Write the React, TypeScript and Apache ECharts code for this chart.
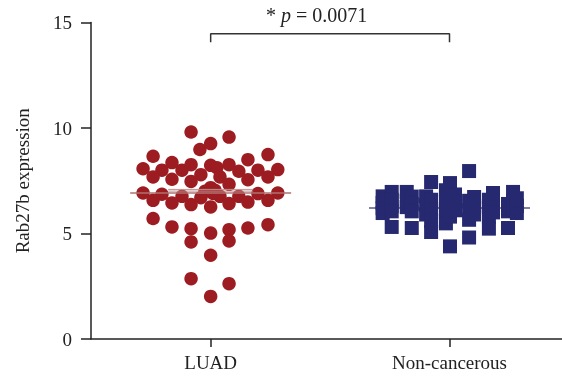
import React, { useEffect, useRef } from "react";
import * as echarts from "echarts";

const categories = ["LUAD", "Non-cancerous"];
const yTicks = [0, 5, 10, 15];

// LUAD values with horizontal jitter (category units)
const luadValues = [
  9.81, 9.57, 9.26, 8.98, 8.66, 8.74, 8.5, 8.07, 8.36, 8.0, 8.0, 8.26, 8.23, 8.12, 8.26,
  7.95, 8.0, 8.03, 7.68, 7.57, 7.79, 7.68, 7.47, 7.33, 7.55, 7.68, 7.17, 7.0, 7.05, 6.92,
  6.86, 6.76, 6.7, 6.76, 6.76, 6.89, 6.92, 6.57, 6.45, 6.37, 6.26, 6.42, 6.49, 6.57, 5.71,
  5.31, 5.23, 5.02, 5.18, 5.26, 5.42, 4.6, 4.65, 3.97, 2.86, 2.62, 2.02, 6.9,
];
const luadJitter = [
  -0.082, 0.077, 0, -0.045, -0.241, 0.24, 0.156, -0.283, -0.162, -0.204, -0.12, -0.082, 0, 0.026, 0.077,
  0.118, 0.198, 0.281, -0.241, -0.162, -0.041, 0.039, -0.082, 0.077, 0.156, 0.24, 0, -0.024, 0.018, -0.283,
  -0.204, -0.12, -0.041, 0.039, 0.118, 0.198, 0.281, -0.241, -0.162, -0.082, 0, 0.077, 0.156, 0.24, -0.241,
  -0.162, -0.082, 0, 0.077, 0.156, 0.24, -0.082, 0.077, 0, -0.082, 0.077, 0, 0.01,
];

// Non-cancerous values with horizontal jitter (category units, relative to category)
const ncValues = [
  6.76, 6.45, 6.2, 5.97,
  6.97, 6.6, 6.3, 6.05, 5.31,
  6.97, 6.55, 6.25,
  6.75, 6.4, 6.05, 5.26,
  6.76, 6.35, 5.9,
  7.44, 6.6, 6.15, 5.6, 5.07,
  7.05, 6.5, 6.0, 5.48,
  7.39, 6.75, 6.3, 5.8, 4.39,
  6.85, 6.45, 6.1,
  7.96, 6.55, 6.1, 5.65, 4.81,
  6.73, 6.3, 5.9,
  6.6, 6.2, 5.8, 5.23,
  6.92, 6.45, 6.0,
  6.4, 6.05, 5.26,
  6.97, 6.55, 6.15,
  6.67, 6.3, 5.97,
];
const ncJitter = [
  -0.28, -0.28, -0.28, -0.28,
  -0.242, -0.242, -0.242, -0.242, -0.242,
  -0.179, -0.179, -0.179,
  -0.158, -0.158, -0.158, -0.158,
  -0.098, -0.098, -0.098,
  -0.077, -0.077, -0.077, -0.077, -0.077,
  -0.015, -0.015, -0.015, -0.015,
  0.002, 0.002, 0.002, 0.002, 0.002,
  0.023, 0.023, 0.023,
  0.082, 0.082, 0.082, 0.082, 0.082,
  0.103, 0.103, 0.103,
  0.165, 0.165, 0.165, 0.165,
  0.182, 0.182, 0.182,
  0.245, 0.245, 0.245,
  0.266, 0.266, 0.266,
  0.282, 0.282, 0.282,
];

// summary lines
const luadMedian = 6.92;
const luadMeanBand = [7.09, 7.01];
const ncMedian = 6.21;
const bracketLow = 14.06;
const bracketHigh = 14.47;
const pText = "0.0071";

const FONT = "Liberation Serif";
const RED = "#9d1c21";
const NAVY = "#26296f";

export default function App() {
  const ref = useRef<HTMLDivElement>(null);
  useEffect(() => {
    if (!ref.current) return;
    const chart = echarts.init(ref.current, undefined, { renderer: "svg" });
    const luadData = luadValues.map((v, i) => [0 + luadJitter[i], v]);
    const ncData = ncValues.map((v, i) => [1 + ncJitter[i], v]);
    const hw = 0.337;
    const sw = 0.178;
    chart.setOption({
      animation: false,
      grid: { left: 91, right: 0, top: 22.5, bottom: 42, outerBoundsMode: "none", containLabel: false },
      xAxis: {
        type: "value",
        min: -0.501,
        max: 1.471,
        axisLine: { show: true, onZero: false, lineStyle: { color: "#222", width: 1.5 } },
        axisTick: { show: true, customValues: [0, 1], length: 8, lineStyle: { color: "#222", width: 1.5 } },
        axisLabel: {
          customValues: [0, 1],
          color: "#222",
          fontFamily: FONT,
          fontSize: 19,
          margin: 14,
          formatter: (v: number) => categories[Math.round(v)] ?? "",
        },
        splitLine: { show: false },
      },
      yAxis: {
        type: "value",
        min: 0,
        max: 15,
        interval: 5,
        name: "Rab27b expression",
        nameLocation: "middle",
        nameGap: 59,
        nameTextStyle: { color: "#222", fontFamily: FONT, fontSize: 19 },
        axisLine: { show: true, onZero: false, lineStyle: { color: "#222", width: 1.5 } },
        axisTick: { show: true, length: 10, lineStyle: { color: "#222", width: 1.5 } },
        axisLabel: {
          color: "#222",
          fontFamily: FONT,
          fontSize: 19,
          margin: 19,
          formatter: (v: number) => (yTicks.includes(v) ? String(v) : ""),
        },
        splitLine: { show: false },
      },
      series: [
        {
          type: "scatter",
          symbol: "circle",
          symbolSize: 13.5,
          itemStyle: { color: RED, opacity: 1 },
          data: luadData,
          z: 3,
        },
        {
          type: "scatter",
          symbol: "rect",
          symbolSize: 14,
          itemStyle: { color: NAVY, opacity: 1 },
          data: ncData,
          z: 3,
        },
        {
          type: "line",
          symbol: "none",
          lineStyle: { color: "#b07070", width: 1.5 },
          data: [[-hw, luadMedian], [hw, luadMedian]],
          z: 4,
        },
        {
          type: "line",
          symbol: "none",
          lineStyle: { color: "#c09090", width: 1 },
          data: [[-sw, luadMeanBand[0]], [sw, luadMeanBand[0]]],
          z: 4,
        },
        {
          type: "line",
          symbol: "none",
          lineStyle: { color: "#c09090", width: 1 },
          data: [[-sw, luadMeanBand[1]], [sw, luadMeanBand[1]]],
          z: 4,
        },
        {
          type: "line",
          symbol: "none",
          lineStyle: { color: "#8080a8", width: 2 },
          data: [[1 - hw, ncMedian], [1 + hw, ncMedian]],
          z: 2,
        },
        {
          type: "line",
          symbol: "none",
          lineStyle: { color: "#333", width: 1.5 },
          data: [[0, bracketLow], [0, bracketHigh], [1, bracketHigh], [1, bracketLow]],
          z: 5,
        },
      ],
      graphic: [
        {
          type: "text",
          x: 266,
          y: 15,
          style: {
            text: "{a|* }{i|p}{a| = " + pText + "}",
            verticalAlign: "middle",
            rich: {
              a: { fontFamily: FONT, fontSize: 20, fill: "#222" },
              i: { fontFamily: FONT, fontSize: 20, fontStyle: "italic", fill: "#222" },
            },
          },
        },
      ],
    });
    return () => chart.dispose();
  }, []);
  return (
    <div
      ref={ref}
      style={{ position: "fixed", left: 0, top: 0, width: 562, height: 381, overflow: "hidden" }}
    />
  );
}
